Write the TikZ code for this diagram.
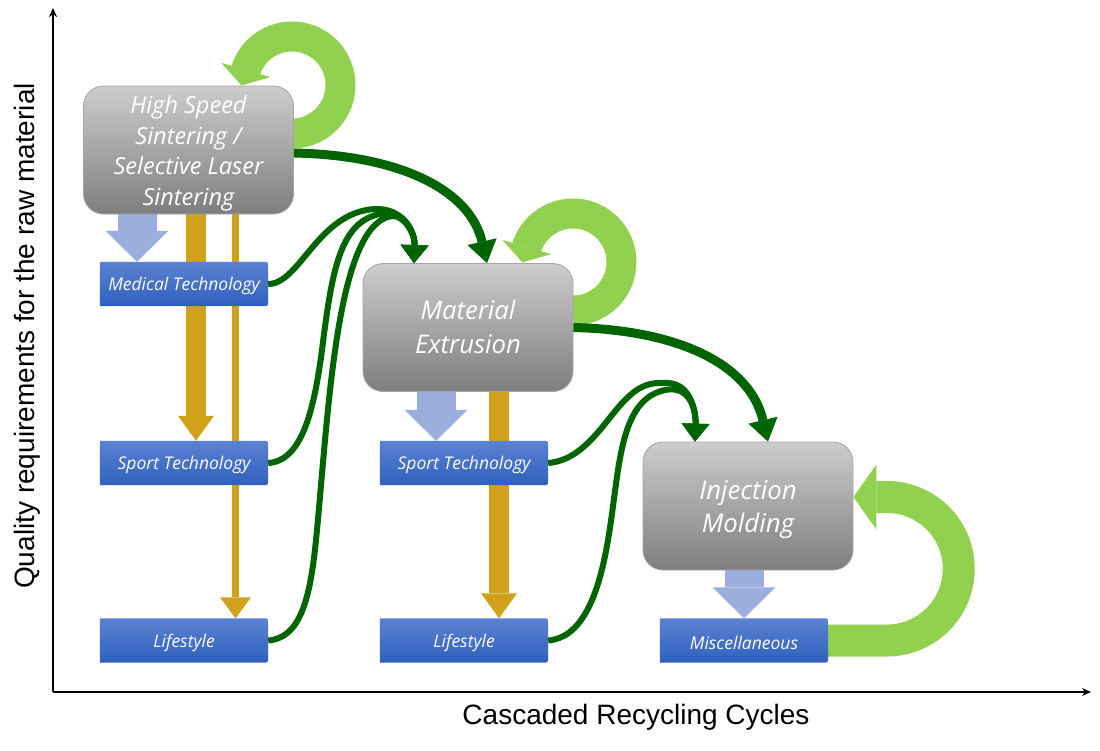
\documentclass[tikz,border=0pt]{standalone}
\usepackage{fontspec}
\setmainfont{Open Sans}
\newfontfamily\axisfont{Liberation Sans}
\usetikzlibrary{arrows.meta}
\pgfdeclarelayer{back}
\pgfdeclarelayer{boxbg}
\pgfsetlayers{back,boxbg,main}
\definecolor{dkgreen}{HTML}{006400}
\definecolor{ltgreen}{HTML}{92D050}
\definecolor{goldc}{HTML}{D1A11C}
\definecolor{lblue}{HTML}{9CAEDD}
\definecolor{btop}{HTML}{5B82D2}
\definecolor{bbot}{HTML}{2F60BE}
\definecolor{gtop}{HTML}{CDCDCD}
\definecolor{gbot}{HTML}{7E7E7E}
\definecolor{boxedge}{HTML}{A6A6A6}
\newcommand{\lowertext}[2]{\raisebox{-#1}[\height][\depth]{#2}}
\tikzset{
  graybox/.style={draw=boxedge, line width=0.8pt, rounded corners=20pt, top color=gtop, bottom color=gbot,
    minimum width=210pt, minimum height=128pt, inner sep=0pt, text=white, align=center},
  bluebox/.style={minimum width=168pt, minimum height=44pt, inner sep=0pt, text=white,
    font=\fontsize{17.5}{20}\selectfont\itshape},
  loopband/.style={draw=ltgreen, line width=30pt, -{Triangle[width=51pt,length=16pt,line width=0pt]}},
  goldthick/.style={draw=goldc, line width=20pt, -{Triangle[width=36pt,length=25pt,line width=0pt]}},
  goldthin/.style={draw=goldc, line width=7.5pt, -{Triangle[width=31pt,length=21pt,line width=0pt]}},
  lbarrow/.style={draw=lblue, line width=39pt, -{Triangle[width=63pt,length=31pt,line width=0pt]}},
  dgbig/.style={draw=dkgreen, line width=9pt, -{Triangle[width=30pt,length=22pt,line width=0pt]}},
  dgsmall/.style={draw=dkgreen, line width=6pt, -{Triangle[width=28pt,length=18pt,line width=0pt]}},
  axisline/.style={draw=black, line width=1.6pt, -{Stealth[length=9pt,width=8pt]}}
}
\begin{document}
\begin{tikzpicture}[x=1pt,y=-1pt]
\useasboundingbox (0,0) rectangle (1100,750);

% axes
\coordinate (origin) at (53,692);
\coordinate (ytip) at (53,8);
\coordinate (xtip) at (1091,692);
\draw[axisline] (origin) -- (ytip);
\draw[axisline] (origin) -- (xtip);
\node[font=\axisfont\fontsize{28}{32}\selectfont] (xlab) at (636,717) {Cascaded Recycling Cycles};
\node[font=\axisfont\fontsize{28}{32}\selectfont, rotate=90] (ylab) at (27,336) {Quality requirements for the raw material};

% process boxes
\node[graybox, font=\fontsize{23.5}{30.5}\selectfont\itshape] (hss) at (188.5,150) {\lowertext{3.5pt}{\begin{tabular}{@{}c@{}}High Speed\\Sintering /\\Selective Laser\\Sintering\end{tabular}}};
\node[graybox, font=\fontsize{25.7}{34}\selectfont\itshape] (me) at (468,327.5) {\lowertext{2.5pt}{\begin{tabular}{@{}c@{}}Material\\Extrusion\end{tabular}}};
\node[graybox, font=\fontsize{25.8}{33}\selectfont\itshape] (im) at (748,506) {\lowertext{3.5pt}{\begin{tabular}{@{}c@{}}Injection\\Molding\end{tabular}}};

% application boxes
\node[bluebox] (med) at (184,284) {\lowertext{2pt}{Medical Technology}};
\node[bluebox] (sp1) at (184,463) {\lowertext{2pt}{Sport Technology}};
\node[bluebox] (ls1) at (184,640.5) {\lowertext{2pt}{Lifestyle}};
\node[bluebox] (sp2) at (464,463) {\lowertext{2pt}{Sport Technology}};
\node[bluebox] (ls2) at (464,640.5) {\lowertext{2pt}{Lifestyle}};
\node[bluebox] (misc) at (744,640.5) {\lowertext{2pt}{Miscellaneous}};

\begin{pgfonlayer}{boxbg}
\foreach \n in {med,sp1,ls1,sp2,ls2,misc}{
  \shade[top color=btop, bottom color=bbot]
    (\n.south west) -- (\n.north west) -- ([xshift=-6pt]\n.north east)
    .. controls (\n.north east) .. ([yshift=-6pt]\n.north east)
    -- ([yshift=6pt]\n.south east)
    .. controls (\n.south east) .. ([xshift=-6pt]\n.south east) -- cycle;
}
\end{pgfonlayer}

\begin{pgfonlayer}{back}
% light blue block arrows
\draw[lbarrow] (137,0 |- hss.south) -- (137,0 |- med.north);
\draw[lbarrow] (436,0 |- me.south) -- (436,0 |- sp2.north);
\draw[lbarrow] (744,0 |- im.south) -- (744,0 |- misc.north);
% gold arrows
\draw[goldthick] (196,0 |- hss.south) -- (196,0 |- sp1.north);
\draw[goldthin] (235.5,0 |- hss.south) -- (235.5,0 |- ls1.north);
\draw[goldthick] (499,0 |- me.south) -- (499,0 |- ls2.north);
% loops
\draw[loopband] plot[domain=-90:162, samples=80, variable=\t] ({292+48.5*cos(\t)},{85-48.5*sin(\t)}) -- (241.4,85.4);
\draw[loopband] plot[domain=-90:162, samples=80, variable=\t] ({573+48.5*cos(\t)},{262-48.5*sin(\t)}) -- (522.4,262.4);
\draw[draw=ltgreen, line width=32pt, -{Triangle[width=65pt,length=23pt,line width=0pt]}]
  (misc.east) -- (887,640.5)
  plot[domain=-90:90, samples=80, variable=\t] ({887+71.75*cos(\t)},{568.75-71.75*sin(\t)})
  -- (im.east |- 0,497);
\end{pgfonlayer}

% dark green connectors
\draw[dgbig] ([yshift=-3pt]hss.east) .. controls (400,155) and (470,190) .. (487,0 |- me.north);
\draw[dgbig] (me.east) .. controls (680,330) and (750,365) .. (768,0 |- im.north);

\draw[dgsmall] (med.east) .. controls (300,284) and (318,212) .. (375,209) .. controls (402,208) and (415,230) .. (414,0 |- me.north);
\draw[dgsmall] (sp1.east) .. controls (302,461) and (314,410) .. (322,350) .. controls (332,270) and (340,222) .. (380,214) .. controls (402,210) and (415,232) .. (414,0 |- me.north);
\draw[dgsmall] (ls1.east) .. controls (300,638) and (310,600) .. (316,540) .. controls (328,420) and (335,240) .. (385,218) .. controls (405,209) and (415,235) .. (414,0 |- me.north);

\draw[dgsmall] (sp2.east) .. controls (585,460) and (605,420) .. (625,400) .. controls (640,385) and (650,382) .. (668,383) .. controls (690,384) and (696,410) .. (695,0 |- im.north);
\draw[dgsmall] (ls2.east) .. controls (580,638) and (598,600) .. (608,540) .. controls (620,470) and (618,400) .. (665,390) .. controls (690,385) and (696,410) .. (695,0 |- im.north);
\end{tikzpicture}
\end{document}
